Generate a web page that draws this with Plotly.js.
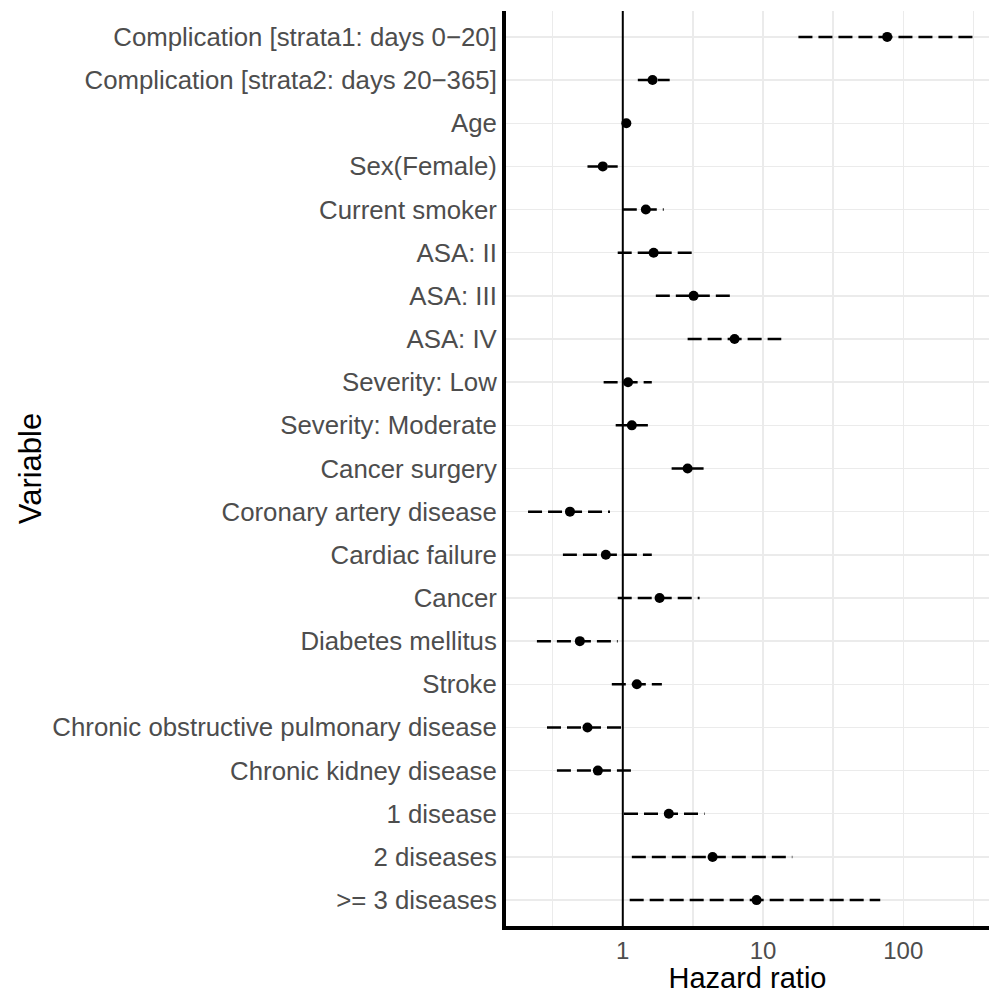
<!DOCTYPE html>
<html>
<head>
<meta charset="utf-8">
<script src="https://cdn.plot.ly/plotly-3.0.1.min.js"></script>
<style>html,body{margin:0;padding:0;overflow:hidden;background:#fff}</style>
</head>
<body>
<div id="chart" style="width:989px;height:994px"></div>
<script>
const variables = [
  "Complication [strata1: days 0\u221220]",
  "Complication [strata2: days 20\u2212365]",
  "Age",
  "Sex(Female)",
  "Current smoker",
  "ASA: II",
  "ASA: III",
  "ASA: IV",
  "Severity: Low",
  "Severity: Moderate",
  "Cancer surgery",
  "Coronary artery disease",
  "Cardiac failure",
  "Cancer",
  "Diabetes mellitus",
  "Stroke",
  "Chronic obstructive pulmonary disease",
  "Chronic kidney disease",
  "1 disease",
  "2 diseases",
  ">= 3 diseases"
];
const hazardRatio = [76.9, 1.63, 1.06, 0.72, 1.46, 1.66, 3.20, 6.27, 1.09, 1.16, 2.90, 0.42, 0.757, 1.83, 0.494, 1.26, 0.56, 0.664, 2.13, 4.37, 9.0];
const ciLower     = [17.9, 1.28, 1.04, 0.56, 1.00, 0.92, 1.72, 2.90, 0.73, 0.89, 2.23, 0.211, 0.374, 0.92, 0.244, 0.835, 0.288, 0.339, 1.02, 1.16, 1.12];
const ciUpper     = [331, 2.16, 1.08, 0.92, 1.96, 3.10, 5.97, 13.5, 1.61, 1.51, 3.77, 0.81, 1.61, 3.53, 0.92, 1.90, 1.03, 1.24, 3.83, 16.2, 68.6];
const xTickVals = [1, 10, 100];
const xTickText = ["1", "10", "100"];
const xMinorVals = [0.316, 3.16, 31.6, 316];
const referenceHR = 1;

const traces = [];
variables.forEach((v, i) => {
  traces.push({
    type: "scatter", mode: "lines",
    x: [ciLower[i], ciUpper[i]], y: [v, v],
    line: {color: "#000000", width: 2.5, dash: "14px,6px"},
    hoverinfo: "skip", showlegend: false
  });
});
traces.push({
  type: "scatter", mode: "markers",
  x: hazardRatio, y: variables,
  marker: {color: "#000000", size: 10, symbol: "circle"},
  showlegend: false
});

const layout = {
  width: 989, height: 994,
  margin: {l: 506, r: 0, t: 11, b: 68},
  paper_bgcolor: "#ffffff", plot_bgcolor: "#ffffff",
  font: {family: "Liberation Sans, Arial, sans-serif", color: "#000000"},
  showlegend: false,
  xaxis: {
    type: "log",
    range: [-0.833, 2.612],
    automargin: false,
    tickmode: "array", tickvals: xTickVals, ticktext: xTickText,
    tickfont: {size: 24, color: "#4D4D4D"},
    ticks: "", showgrid: true, gridcolor: "#EBEBEB", gridwidth: 1.4,
    minor: {tickmode: "array", tickvals: xMinorVals, showgrid: true, gridcolor: "#EBEBEB", gridwidth: 1.4, ticks: ""},
    showline: true, linecolor: "#000000", linewidth: 4,
    zeroline: false,
    ticklabelstandoff: 0,
    title: {text: "Hazard ratio", font: {size: 29, color: "#000000"}, standoff: 16}
  },
  yaxis: {
    type: "category",
    categoryorder: "array", categoryarray: variables,
    range: [20.6, -0.6],
    tickfont: {size: 25.8, color: "#4D4D4D"},
    ticks: "", showgrid: true, gridcolor: "#EBEBEB", gridwidth: 1.4,
    showline: true, linecolor: "#000000", linewidth: 4,
    zeroline: false,
    ticklabelstandoff: 0,
    title: {text: "Variable", font: {size: 31, color: "#000000"}, standoff: 2}
  },
  shapes: [{
    type: "line", xref: "x", yref: "paper",
    x0: referenceHR, x1: referenceHR, y0: 0, y1: 1,
    line: {color: "#000000", width: 2}
  }]
};

Plotly.newPlot("chart", traces, layout, {staticPlot: true, displayModeBar: false});
</script>
</body>
</html>
